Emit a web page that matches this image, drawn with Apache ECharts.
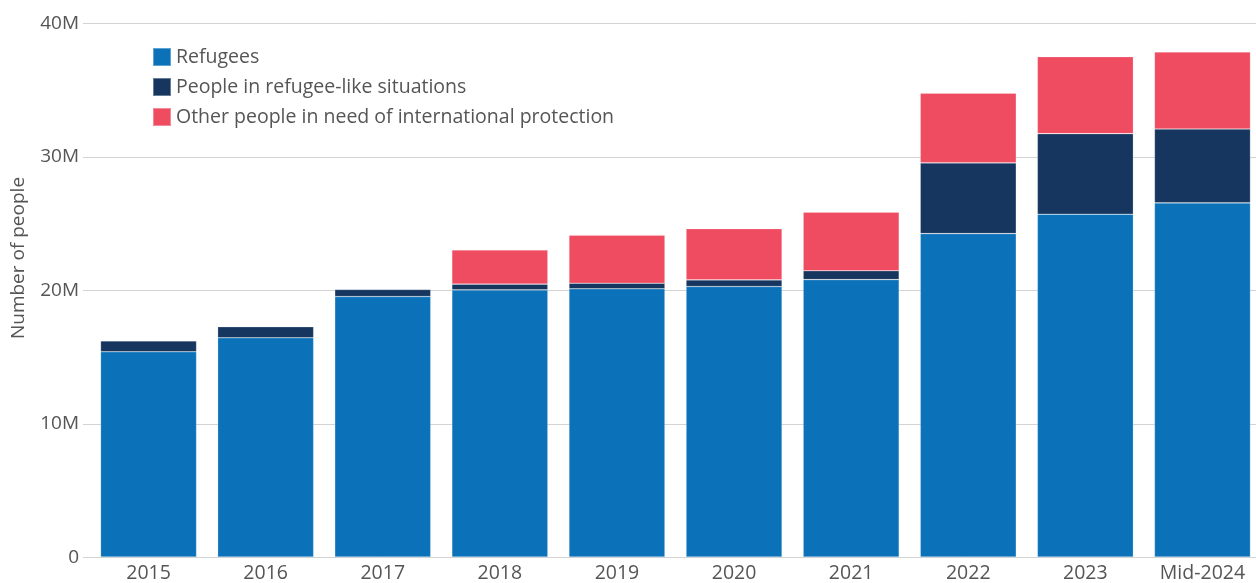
<!DOCTYPE html>
<html>
<head>
<meta charset="utf-8">
<script src="https://cdn.jsdelivr.net/npm/echarts@6/dist/echarts.min.js"></script>
<style>
  html, body { margin: 0; padding: 0; background: #fff; overflow: hidden; }
  #chart { width: 1261px; height: 583px; }
</style>
</head>
<body>
<div id="chart"></div>
<script>
// Categories (years) and stacked series values, in millions of people
const categories = ['2015', '2016', '2017', '2018', '2019', '2020', '2021', '2022', '2023', 'Mid-2024'];
const refugees = [15.38, 16.43, 19.52, 20.02, 20.10, 20.27, 20.79, 24.24, 25.69, 26.54];
const refugeeLike = [0.82, 0.83, 0.53, 0.43, 0.42, 0.50, 0.66, 5.30, 6.04, 5.54];
const otherProtection = [0, 0, 0, 2.57, 3.60, 3.84, 4.39, 5.22, 5.77, 5.77];
const yTicks = [0, 10, 20, 30, 40];

const seriesNames = ['Refugees', 'People in refugee-like situations', 'Other people in need of international protection'];
const colors = ['#0B72BA', '#16365F', '#EF4B61'];

const FONT = '"Open Sans", Lato, sans-serif';
const textColor = '#555555';

const chart = echarts.init(document.getElementById('chart'));

function fmt(v) { return v === 0 ? '0' : v + 'M'; }

function barSeries(name, data, color) {
  return {
    name: name,
    type: 'bar',
    stack: 'total',
    xAxisIndex: 0,
    yAxisIndex: 0,
    barWidth: 96,
    data: data.map(v => (v === 0 ? null : v)),
    itemStyle: { color: color, borderColor: 'rgba(255,255,255,0.35)', borderWidth: 0.6 },
    emphasis: { disabled: true }
  };
}

chart.setOption({
  animation: false,
  textStyle: { fontFamily: FONT },
  legend: {
    orient: 'vertical',
    left: 152,
    top: 47,
    padding: 0,
    icon: 'rect',
    itemWidth: 18,
    itemHeight: 18,
    itemGap: 10,
    textStyle: { fontSize: 19.5, lineHeight: 18, color: textColor, fontFamily: FONT, padding: [0, 0, 0, 0] },
    data: seriesNames
  },
  graphic: [{
    type: 'text',
    x: 19,
    y: 258,
    rotation: Math.PI / 2,
    style: {
      text: 'Number of people',
      fill: textColor,
      font: '19px ' + FONT,
      textAlign: 'center',
      textVerticalAlign: 'middle'
    }
  }],
  grid: [
    // bar area
    { left: 90, right: 0, top: 23.3, bottom: 25.7 },
    // wider area for gridlines and y labels
    { left: 83, right: 0, top: 23.3, bottom: 25.7 }
  ],
  xAxis: [
    {
      type: 'category',
      gridIndex: 0,
      data: categories,
      axisLine: { show: false },
      axisTick: { show: false },
      axisLabel: { color: textColor, fontSize: 19.5, fontFamily: FONT, margin: 6 }
    },
    { type: 'value', gridIndex: 1, show: false, min: 0, max: 1 }
  ],
  yAxis: [
    {
      type: 'value',
      gridIndex: 0,
      min: 0, max: 40, interval: 10,
      show: false
    },
    {
      type: 'value',
      gridIndex: 1,
      min: yTicks[0], max: yTicks[yTicks.length - 1], interval: 10,
      axisLine: { show: false },
      axisTick: { show: false },
      axisLabel: { color: textColor, fontSize: 19, fontFamily: FONT, margin: 4, formatter: fmt },
      splitLine: { lineStyle: { color: '#D3D3D3', width: 1 } }
    }
  ],
  series: [
    barSeries(seriesNames[0], refugees, colors[0]),
    barSeries(seriesNames[1], refugeeLike, colors[1]),
    barSeries(seriesNames[2], otherProtection, colors[2])
  ]
});
</script>
</body>
</html>
